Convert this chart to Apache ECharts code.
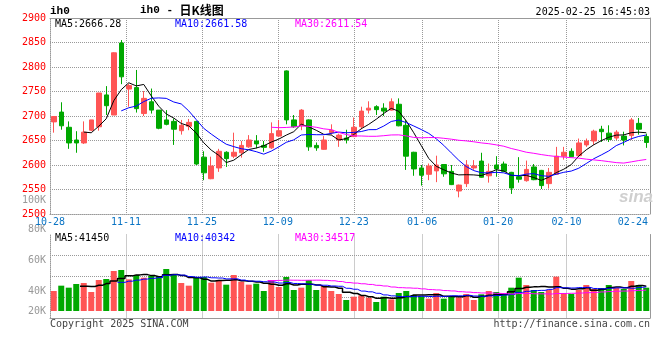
<!DOCTYPE html>
<html><head><meta charset="utf-8">
<script src="https://cdn.jsdelivr.net/npm/echarts@6/dist/echarts.min.js"></script>
<style>html,body{margin:0;padding:0;background:#fff}#c{width:660px;height:360px}</style>
</head><body><div id="c"></div>
<script>
const dates = ['10-28','10-29','10-30','10-31','11-01','11-04','11-05','11-06','11-07','11-08',
'11-11','11-12','11-13','11-14','11-15','11-18','11-19','11-20','11-21','11-22',
'11-25','11-26','11-27','11-28','11-29','12-02','12-03','12-04','12-05','12-06',
'12-09','12-10','12-11','12-12','12-13','12-16','12-17','12-18','12-19','12-20',
'12-23','12-24','12-25','12-26','12-27','12-30','12-31','01-02','01-03','01-06',
'01-07','01-08','01-09','01-10','01-13','01-14','01-15','01-16','01-17','01-20',
'01-21','01-22','01-23','01-24','01-27','02-05','02-06','02-07','02-10','02-11',
'02-12','02-13','02-14','02-17','02-18','02-19','02-20','02-21','02-24','02-25'];
const labelDates = ['10-28','11-11','11-25','12-09','12-23','01-06','01-20','02-10','02-24'];
const priceTicks = [2500, 2900, 50];
const volTickLabels = [20000, 40000, 60000, 80000, 100000];

const opens = [2688,2708,2677,2651,2645,2671,2678,2743,2702,2849, 2755,2758,2705,2729,2712,2692,2689,2670,2679,2689,
2616,2572,2594,2626,2618,2625,2637,2649,2640,2635, 2659,2792,2692,2680,2692,2640,2632,2666,2651,2655,
2658,2678,2712,2719,2716,2712,2724,2681,2626,2594, 2581,2588,2601,2587,2547,2562,2594,2608,2578,2600,
2602,2585,2576,2568,2596,2589,2562,2581,2618,2628, 2619,2641,2649,2673,2665,2655,2659,2660,2685,2658];
const closes = [2699,2680,2645,2645,2667,2692,2747,2721,2829,2780, 2762,2715,2736,2712,2675,2683,2673,2681,2687,2602,
2584,2598,2628,2613,2626,2640,2651,2643,2636,2664, 2670,2692,2678,2712,2637,2635,2651,2671,2661,2651,
2677,2710,2716,2713,2710,2729,2680,2618,2592,2579, 2598,2600,2582,2560,2559,2600,2598,2575,2587,2592,
2587,2553,2571,2591,2570,2558,2585,2618,2626,2617, 2645,2649,2669,2668,2652,2667,2651,2692,2673,2646];
const lows = [2666,2672,2633,2625,2643,2669,2670,2702,2702,2765, 2719,2707,2700,2705,2673,2681,2641,2662,2671,2600,
2569,2571,2586,2596,2614,2615,2635,2634,2627,2633, 2657,2683,2676,2671,2629,2629,2631,2662,2637,2644,
2657,2673,2705,2702,2700,2711,2679,2590,2578,2558, 2569,2565,2576,2559,2534,2555,2590,2574,2564,2576,
2586,2541,2564,2566,2569,2551,2552,2581,2611,2616, 2618,2637,2641,2647,2647,2651,2640,2651,2662,2635];
const highs = [2700,2728,2689,2669,2689,2692,2747,2761,2830,2855, 2766,2794,2751,2756,2712,2712,2695,2692,2694,2690,
2628,2617,2633,2628,2666,2649,2661,2661,2649,2687, 2692,2793,2702,2714,2693,2646,2659,2683,2664,2672,
2697,2719,2730,2722,2726,2736,2736,2692,2627,2600, 2603,2619,2601,2600,2560,2610,2610,2625,2603,2618,
2607,2586,2616,2609,2602,2590,2594,2637,2637,2634, 2654,2654,2672,2680,2681,2671,2668,2696,2696,2664];

const ma5 = ['-','-','-','-',2667.2,2665.8,2679.2,2694.4,2731.2,2753.8,
2767.8,2761.4,2764.4,2741.0,2720.0,2704.2,2695.8,2684.8,2679.8,2665.2,
2645.4,2630.4,2619.8,2605.0,2609.8,2621.0,2631.6,2634.6,2639.2,2646.8,
2652.8,2661.0,2668.0,2683.2,2677.8,2670.8,2662.6,2661.2,2651.0,2653.8,
2662.2,2674.0,2683.0,2693.4,2705.2,2715.6,2709.6,2690.0,2665.8,2639.6,
2613.4,2597.4,2590.2,2583.8,2579.8,2580.2,2579.8,2578.4,2583.8,2590.4,
2587.8,2578.8,2578.0,2578.8,2574.4,2568.6,2575.0,2584.4,2591.4,2600.8,
2618.2,2631.0,2641.2,2649.6,2656.6,2661.0,2661.4,2666.0,2667.0,2665.8];
const ma10 = ['-','-','-','-','-','-','-','-','-',2710.5,
2716.8,2720.3,2729.4,2736.1,2736.9,2736.0,2728.6,2724.6,2710.4,2692.6,
2674.8,2663.1,2652.3,2642.4,2637.5,2633.2,2631.0,2627.2,2622.1,2628.3,
2636.9,2646.3,2651.3,2661.2,2662.3,2661.8,2661.8,2664.6,2667.1,2665.8,
2666.5,2668.3,2672.1,2672.2,2679.5,2688.9,2691.8,2686.5,2679.6,2672.4,
2664.5,2653.5,2640.1,2624.8,2609.7,2596.8,2588.6,2584.3,2583.8,2585.1,
2584.0,2579.3,2578.2,2581.3,2582.4,2578.2,2576.9,2581.2,2585.1,2587.6,
2593.4,2603.0,2612.8,2620.5,2628.7,2639.6,2646.2,2653.6,2658.3,2661.2];
const ma30 = ['-','-','-','-','-','-','-','-','-','-',
'-','-','-','-','-','-','-','-','-','-',
'-','-','-','-','-','-','-','-','-',2677.1,
2676.2,2676.6,2677.7,2679.9,2678.9,2677.0,2673.8,2672.1,2666.5,2662.2,
2659.4,2659.2,2658.6,2658.6,2659.8,2661.3,2661.5,2659.4,2656.3,2655.5,
2656.0,2656.0,2654.5,2652.7,2650.5,2649.2,2647.4,2645.1,2643.5,2641.1,
2638.3,2633.7,2630.1,2626.1,2623.9,2621.3,2619.1,2617.3,2616.2,2615.0,
2614.0,2611.9,2610.4,2608.9,2606.9,2604.9,2603.9,2606.4,2609.1,2611.3];

const volumes = [33300,42180,38850,44960,46620,31640,51620,53280,66600,68270,
52730,59940,55500,58280,58280,69930,61610,46620,42180,56610,
56610,47180,51620,43850,59940,48840,43850,45510,33300,51620,
39960,56610,34970,38850,51620,34970,41630,33300,28310,18320,
23870,26090,22200,14990,23870,19430,29970,33300,26640,24420,
20540,29970,20540,24980,22760,28310,18320,27750,33300,31640,
28310,38850,55500,43290,34970,31640,34970,57170,29970,28310,
34970,43290,36630,38300,43290,38300,36630,49950,43290,38850];
const volMa5 = ['-','-','-','-',41180,40850,42740,45620,49950,54280,
58500,60160,60610,58940,56940,60380,60720,58940,55720,55390,
52730,49840,50840,51170,51840,50280,49620,48400,46290,44620,
42850,45400,43290,44400,44400,43400,40400,40070,37960,31300,
29080,25970,23750,21090,22200,21310,22090,24310,26640,26750,
26970,26970,24420,24090,23750,25310,22980,24420,26090,27860,
27860,31970,37520,39520,40180,40850,40070,40400,37740,36410,
37070,38740,34630,36300,39290,39960,38630,41290,42290,41400];
const volMa10 = ['-','-','-','-','-','-','-','-','-',47730,
49670,51450,53110,54450,55610,59440,60440,59770,57330,56170,
56550,55280,54890,53450,53610,51500,49730,49620,48730,48230,
46560,47510,45840,45340,44510,43120,42900,41680,41180,37850,
36240,33190,31910,29530,26750,25200,24030,24030,23870,24480,
24140,24530,24360,25360,25250,26140,24980,24420,25090,25810,
26580,27470,30970,32800,34020,34350,36020,38960,38630,38300,
38960,39410,37520,37020,37850,38520,38680,37960,39290,40350];
const volMa30 = ['-','-','-','-','-','-','-','-','-','-',
'-','-','-','-','-','-','-','-','-','-',
'-','-','-','-','-','-','-','-','-',50710,
50930,51410,51280,51080,51240,51350,51020,50360,49080,47410,
46450,45330,44220,42770,41630,39940,38890,38450,37920,36850,
35650,35080,34040,33410,32170,31490,30640,30040,30040,29380,
28990,28400,29080,29230,28680,28570,28340,29140,29190,29530,
29900,30470,30950,31730,32370,33010,33230,33780,34340,34820];

const priceMaLabels = ['MA5:2666.28','MA10:2661.58','MA30:2611.54'];
const volMaLabels = ['MA5:41450','MA10:40342','MA30:34517'];
const maColors = ['#000000','#0000ff','#ff00ff'];

const MONO = "'DejaVu Sans Mono', 'Liberation Mono', monospace";
const UP = '#ff5555', DOWN = '#00a800';
const DOT = {color:'#999', type:[1,1], width:1};
const SOLID = {color:'#999', width:1};
const gridDates = labelDates.slice(1, -1);
const lastLabel = labelDates[labelDates.length - 1];

const candleData = opens.map((o, i) => [o, closes[i], lows[i], highs[i]]);
const volData = volumes.map((v, i) => ({value: v, itemStyle: {color: closes[i] >= opens[i] ? UP : DOWN}}));

function txt(text, left, top, color) {
  return {text, left, top, padding: 0,
    textStyle: {fontFamily: MONO, fontSize: 10, fontWeight: 'normal', color}};
}
const titles = [
  {text: 'ih0', left: 50, top: 6, padding: 0,
   textStyle: {fontFamily: "'Liberation Mono', monospace", fontSize: 11, fontWeight: 'bold', color: '#000'}},
  {text: '{a|ih0 - }{b|日K线图}', left: 140, top: 4, padding: 0,
   textStyle: {rich: {
     a: {fontFamily: "'Liberation Mono', monospace", fontSize: 11, fontWeight: 'bold', color: '#000'},
     b: {fontFamily: "'Noto Sans CJK SC', sans-serif", fontSize: 12, fontWeight: 'bold', color: '#000'}}}},
  {text: '2025-02-25 16:45:03', right: 10, top: 7, padding: 0,
   textStyle: {fontFamily: MONO, fontSize: 10, fontWeight: 'normal', color: '#000'}},
  txt(priceMaLabels[0], 55, 19, maColors[0]),
  txt(priceMaLabels[1], 175, 19, maColors[1]),
  txt(priceMaLabels[2], 295, 19, maColors[2]),
  txt(volMaLabels[0], 55, 233.5, maColors[0]),
  txt(volMaLabels[1], 175, 233.5, maColors[1]),
  txt(volMaLabels[2], 295, 233.5, maColors[2]),
  txt('Copyright 2025 SINA.COM', 50, 319, '#444'),
  {text: 'http://finance.sina.com.cn', right: 10, top: 319, padding: 0,
   textStyle: {fontFamily: MONO, fontSize: 10, fontWeight: 'normal', color: '#444'}},
  {text: 'sina', left: 619, top: 189, padding: 0,
   textStyle: {fontFamily: "'Liberation Sans', sans-serif", fontSize: 17, fontStyle: 'italic', fontWeight: 'bold', color: '#cfcfcf'}}
];

const volShift = {40000: 's15', 60000: 's10', 80000: 's3'};

const chart = echarts.init(document.getElementById('c'), null, {renderer: 'canvas'});
chart.setOption({
  animation: false,
  backgroundColor: '#fff',
  title: titles,
  grid: [
    {left: 50, top: 18, width: 600, height: 196, outerBoundsMode: 'none'},
    {left: 50, top: 234.5, width: 600, height: 76.5, outerBoundsMode: 'none'},
    {left: 50, top: 234.5, width: 600, height: 83.5, outerBoundsMode: 'none'},
    {left: 50, top: 200.7, width: 600, height: 110.3, outerBoundsMode: 'none'}
  ],
  xAxis: [
    {type: 'category', gridIndex: 0, data: dates, boundaryGap: true, position: 'top',
     axisLine: {show: true, lineStyle: SOLID}, axisTick: {show: false}, axisLabel: {show: false}, splitLine: {show: false}},
    {type: 'category', gridIndex: 0, data: dates, boundaryGap: false, position: 'bottom',
     axisLine: {show: true, lineStyle: DOT}, axisTick: {show: false},
     axisLabel: {interval: (i, v) => labelDates.includes(v), color: '#0a74c4', fontSize: 10, fontFamily: MONO,
       margin: 3, hideOverlap: false,
       formatter: v => v === lastLabel ? '{e|' + v + '}' : v,
       rich: {e: {padding: [0, 19, 0, 0], color: '#0a74c4', fontSize: 10, fontFamily: MONO}}},
     splitLine: {show: true, interval: (i, v) => gridDates.includes(v), lineStyle: DOT}},
    {type: 'category', gridIndex: 1, data: dates, boundaryGap: true, show: false},
    {type: 'category', gridIndex: 2, data: dates, boundaryGap: false, position: 'top',
     axisLine: {show: true, lineStyle: SOLID}, axisTick: {show: false}, axisLabel: {show: false},
     splitLine: {show: true, interval: (i, v) => gridDates.includes(v), lineStyle: DOT}},
    {type: 'value', gridIndex: 3, show: false}
  ],
  yAxis: [
    {type: 'value', gridIndex: 0, min: priceTicks[0], max: priceTicks[1], interval: priceTicks[2], position: 'left',
     axisLine: {show: true, lineStyle: DOT}, axisTick: {show: false},
     axisLabel: {color: '#ff0000', fontSize: 10, fontFamily: MONO, margin: 4, showMinLabel: true, showMaxLabel: true,
       hideOverlap: false, formatter: v => String(v)},
     splitLine: {show: true, lineStyle: DOT}},
    {type: 'value', gridIndex: 0, min: priceTicks[0], max: priceTicks[1], position: 'right',
     axisLine: {show: true, lineStyle: SOLID}, axisTick: {show: false}, axisLabel: {show: false}, splitLine: {show: false}},
    {type: 'value', gridIndex: 1, min: 0, max: 127400, show: false},
    {type: 'value', gridIndex: 2, min: 0, max: 4, interval: 1, position: 'left',
     axisLine: {show: true, lineStyle: DOT}, axisTick: {show: false}, axisLabel: {show: false},
     splitLine: {show: true, showMinLine: false, showMaxLine: false, lineStyle: DOT}},
    {type: 'value', gridIndex: 2, min: 0, max: 4, position: 'right',
     axisLine: {show: true, lineStyle: SOLID}, axisTick: {show: false}, axisLabel: {show: false}, splitLine: {show: false}},
    {type: 'value', gridIndex: 3, min: volTickLabels[0], max: volTickLabels[volTickLabels.length - 1], interval: 20000,
     position: 'left', axisLine: {show: false}, axisTick: {show: false}, splitLine: {show: false},
     axisLabel: {color: '#999', fontSize: 10, fontFamily: MONO, margin: 4, showMinLabel: true, showMaxLabel: true, hideOverlap: false,
       formatter: v => { const t = (v / 1000) + 'K'; return volShift[v] ? '{' + volShift[v] + '|' + t + '}' : t; },
       rich: {
         s15: {padding: [15, 0, 0, 0], color: '#999', fontSize: 10, fontFamily: MONO},
         s10: {padding: [10, 0, 0, 0], color: '#999', fontSize: 10, fontFamily: MONO},
         s3: {padding: [3, 0, 0, 0], color: '#999', fontSize: 10, fontFamily: MONO}}}}
  ],
  series: [
    {type: 'candlestick', xAxisIndex: 0, yAxisIndex: 0, data: candleData, barWidth: 5,
     itemStyle: {color: UP, color0: DOWN, borderColor: UP, borderColor0: DOWN, borderWidth: 1}},
    {type: 'line', xAxisIndex: 0, yAxisIndex: 0, data: ma5, symbol: 'none', lineStyle: {color: maColors[0], width: 1}},
    {type: 'line', xAxisIndex: 0, yAxisIndex: 0, data: ma10, symbol: 'none', lineStyle: {color: maColors[1], width: 1}},
    {type: 'line', xAxisIndex: 0, yAxisIndex: 0, data: ma30, symbol: 'none', lineStyle: {color: maColors[2], width: 1}},
    {type: 'bar', xAxisIndex: 2, yAxisIndex: 2, data: volData, barWidth: 6},
    {type: 'line', xAxisIndex: 2, yAxisIndex: 2, data: volMa5, step: 'middle', symbol: 'none', lineStyle: {color: maColors[0], width: 1.5}},
    {type: 'line', xAxisIndex: 2, yAxisIndex: 2, data: volMa10, step: 'middle', symbol: 'none', lineStyle: {color: maColors[1], width: 1}},
    {type: 'line', xAxisIndex: 2, yAxisIndex: 2, data: volMa30, step: 'middle', symbol: 'none', lineStyle: {color: maColors[2], width: 1}}
  ]
});
</script>
</body></html>
